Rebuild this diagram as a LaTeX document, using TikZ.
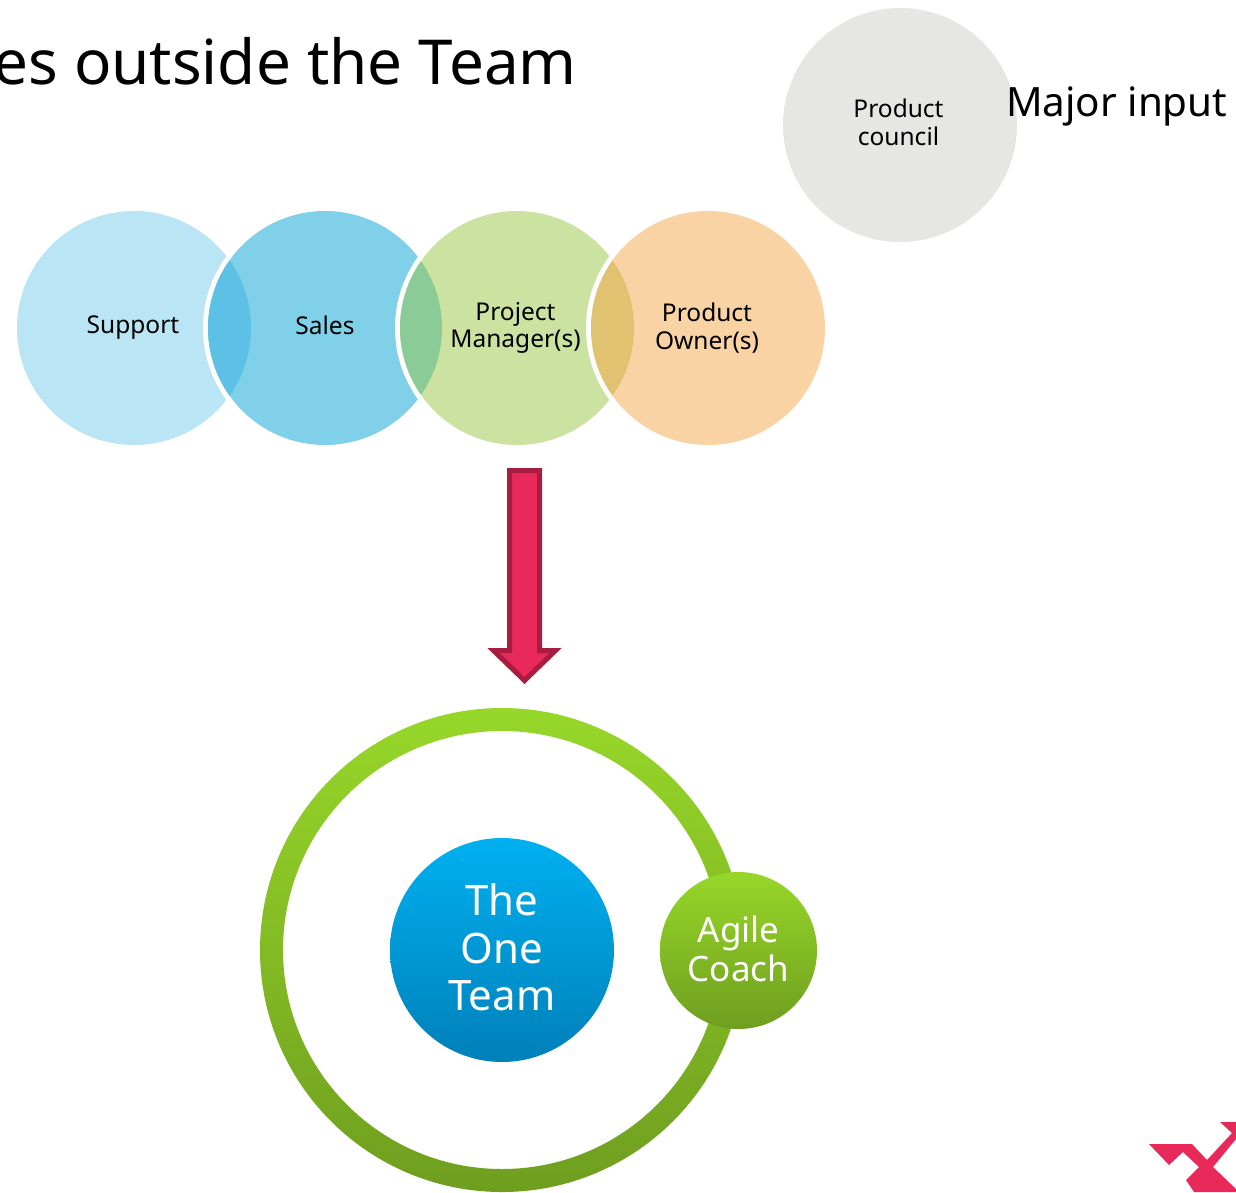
\documentclass[tikz,border=0pt]{standalone}
\usepackage{fontspec}
\setmainfont{Noto Sans}
\usepackage{tikz}
\definecolor{supportblue}{HTML}{B9E5F4}
\definecolor{salesblue}{HTML}{80D0EA}
\definecolor{managergreen}{HTML}{CBE2A0}
\definecolor{ownerorange}{HTML}{FAD3A4}
\definecolor{lensblue}{HTML}{5CC1E5}
\definecolor{lensgreen}{HTML}{8ACB97}
\definecolor{lensorange}{HTML}{E0C270}
\definecolor{councilgray}{HTML}{E6E6E4}
\definecolor{arrowred}{HTML}{E8295A}
\definecolor{arrowdark}{HTML}{A81C40}
\definecolor{logored}{HTML}{E8295A}
\definecolor{greentop}{HTML}{97D729}
\definecolor{greenbot}{HTML}{6F9E1F}
\definecolor{bluetop}{HTML}{00B0F0}
\definecolor{bluebot}{HTML}{0080B8}
\tikzset{
	rolecircle/.style={circle, minimum size=234pt, inner sep=0pt, outer sep=0pt, align=center, font=\fontsize{24.5}{27.5}\selectfont, text=black},
	gradcircle/.style={circle, inner sep=0pt, outer sep=0pt, align=center, text=white},
}
\begin{document}
\begin{tikzpicture}[x=1pt,y=-1pt]
	\useasboundingbox (0,0) rectangle (1236,1192);
	\node[anchor=base east, inner sep=0pt, font=\fontsize{62}{70}\selectfont] (title) at (577,84) {es outside the Team};
	\node[rolecircle, fill=councilgray] (council) at (900,125) {Product\kern3pt\\council\kern3pt\vphantom{p}};
	\node[anchor=base west, inner sep=0pt, font=\fontsize{40.4}{46}\selectfont] (input) at (1006,116) {Major input};
	\node[rolecircle, fill=supportblue] (support) at (134,328) {Support\kern2pt};
	\fill[white] (325,328) circle (122);
	\node[rolecircle, fill=salesblue] (sales) at (325,328) {Sales\vphantom{p}};
	\begin{scope}
		\clip (325,328) circle (117);
		\fill[lensblue] (134,328) circle (117);
	\end{scope}
	\fill[white] (517,328) circle (122);
	\node[rolecircle, fill=managergreen] (manager) at (517,328) {Project\kern3pt\\Manager(s)\kern3pt};
	\begin{scope}
		\clip (517,328) circle (117);
		\fill[lensgreen] (325,328) circle (117);
	\end{scope}
	\fill[white] (708,328) circle (122);
	\node[rolecircle, fill=ownerorange] (owner) at (708,328) {Product\kern2pt\\Owner(s)\kern2pt};
	\begin{scope}
		\clip (708,328) circle (117);
		\fill[lensorange] (517,328) circle (117);
	\end{scope}
	\filldraw[fill=arrowred, draw=arrowdark, line width=5pt, miter limit=10] (509.5,470.5) -- (539.5,470.5) -- (539.5,650.5) -- (555.5,650.5) -- (524.5,680.5) -- (493.5,650.5) -- (509.5,650.5) -- cycle;
	\shade[top color=greentop, bottom color=greenbot, even odd rule] (502,950) circle (242) (502,950) circle (219);
	\node[gradcircle, minimum size=224pt, top color=bluetop, bottom color=bluebot, font=\fontsize{42}{47.5}\selectfont] (team) at (502,950) {The\\One\\Team\vphantom{,}};
	\node[gradcircle, minimum size=157pt, top color=greentop, bottom color=greenbot, font=\fontsize{35}{39}\selectfont] (coach) at (738.5,950.5) {Agile\\Coach\vphantom{,}};
	\fill[logored] (1149,1144) -- (1192,1144) -- (1207,1160) -- (1232,1133) -- (1220,1122) -- (1236,1122) -- (1236,1139) -- (1213,1167) -- (1236,1189) -- (1236,1192) -- (1194,1192) -- (1186,1180) -- (1199,1167) -- (1183,1152) -- (1169,1165) -- cycle;
\end{tikzpicture}
\end{document}
